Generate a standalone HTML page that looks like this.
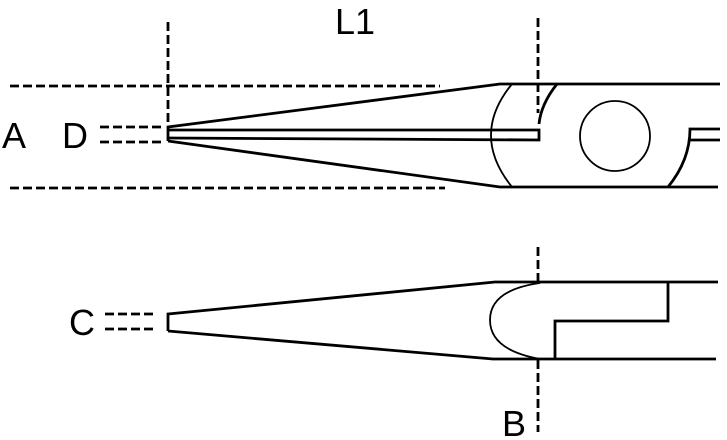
<!DOCTYPE html>
<html><head><meta charset="utf-8"><style>
html,body{margin:0;padding:0;background:#fff;}
svg{display:block}
text{font-family:"Liberation Sans",sans-serif;fill:#000}
</style></head><body>
<svg width="727" height="440" viewBox="0 0 727 440" xmlns="http://www.w3.org/2000/svg">
<g fill="none" stroke="#000" stroke-width="2.8" stroke-dasharray="9,4">
<line x1="10" y1="86" x2="440" y2="86"/>
<line x1="10" y1="188" x2="445" y2="188"/>
<line x1="168" y1="22" x2="168" y2="125"/>
<line x1="538" y1="18" x2="538" y2="113"/>
<line x1="100" y1="127" x2="162" y2="127"/>
<line x1="100" y1="142" x2="162" y2="142"/>
<line x1="538" y1="247" x2="538" y2="285"/>
<line x1="538" y1="360" x2="538" y2="432"/>
<line x1="105" y1="314" x2="153" y2="314"/>
<line x1="105" y1="329" x2="153" y2="329"/>
</g>
<g fill="none" stroke="#000" stroke-width="2.8" stroke-linejoin="miter">
<polyline points="168,141 168,127 500,84 720,84"/>
<polyline points="168,141 500,187 718,187"/>
<polyline points="168,130 539,130 539,140 168,138"/>
<path d="M512,84 Q470,135 512,187" stroke-width="1.8"/>
<path d="M557,84 Q541,104 539,124"/>
<circle cx="615" cy="136" r="35" stroke-width="1.8"/>
<path d="M668,187 Q690,160 690,129 L720,129"/>
<line x1="690" y1="140" x2="720" y2="140"/>
<polyline points="168,331 168,314 495,282 718,282"/>
<polyline points="168,331 493,359 716,359"/>
<path d="M540,283 Q490,290 490,320 Q490,350 540,359" stroke-width="1.8"/>
<polyline points="668,282 668,321 555,321 555,359"/>
</g>
<text x="335" y="34" font-size="36">L1</text>
<text x="2" y="148" font-size="36">A</text>
<text x="62" y="148" font-size="36">D</text>
<text x="69" y="335" font-size="36">C</text>
<text x="502" y="436" font-size="36">B</text>
</svg>
</body></html>
